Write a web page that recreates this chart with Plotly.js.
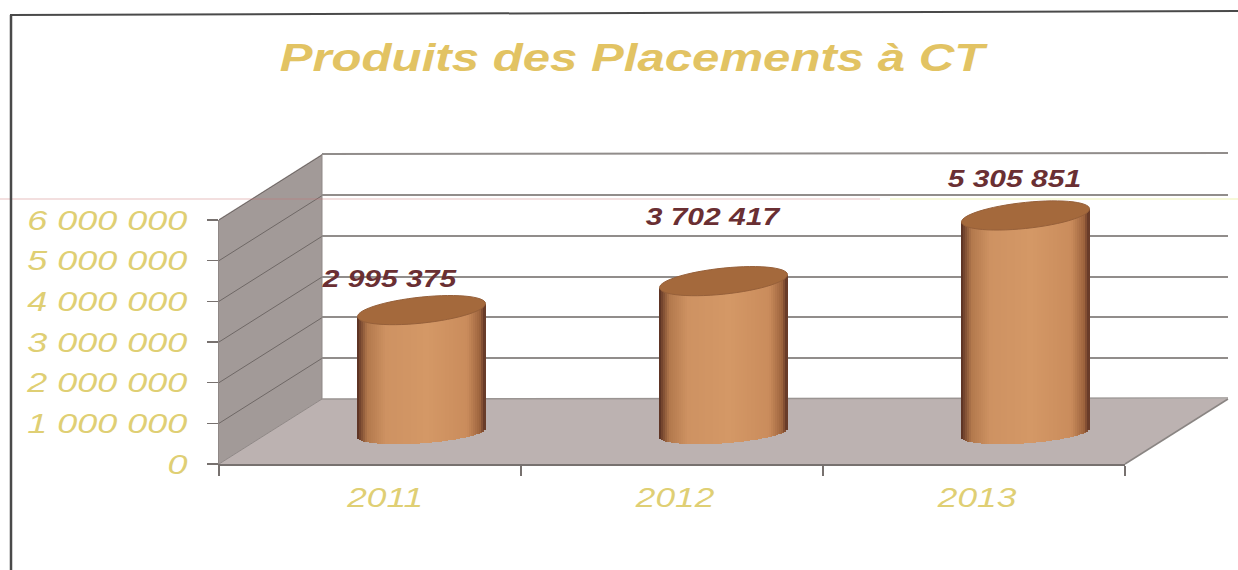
<!DOCTYPE html>
<html><head><meta charset="utf-8">
<script src="https://cdn.plot.ly/plotly-3.0.1.min.js"></script>
<style>html,body{margin:0;padding:0;background:#fff}</style></head>
<body><div id="chart" style="width:1238px;height:570px"></div>
<script>
const chartTitle = "Produits des Placements à CT";
const years = [2011, 2012, 2013];
const values = [2995375, 3702417, 5305851];
const valueLabels = ["2 995 375", "3 702 417", "5 305 851"];
const yearLabelPositions = [2011.05, 2012.01, 2013.01];
const yTicks = [0, 1000000, 2000000, 3000000, 4000000, 5000000, 6000000];
const yTickLabels = ["0", "1 000 000", "2 000 000", "3 000 000", "4 000 000", "5 000 000", "6 000 000"];
const yearBoundaries = [2010.5, 2011.5, 2012.5, 2013.5];
const labelShiftX = [-33, -11, -11];
const labelShiftY = [32, 65, 37];

const W = 1238, H = 570;
const px = x => x / W, py = y => 1 - y / H;
const domX = (a, b) => [px(a), px(b)], domY = (top, bot) => [py(bot), py(top)];
const perPx = 6000000 / 245, yearPerPx = 1 / 302;
const halfW = 64, ry = 13, ryBottom = 10.5;

const YEL = "#dfcf74", LAB = "#6a2f33";
const traces = [];
traces.push({type:"scatter", x:years, y:[0,0,0], mode:"none", hoverinfo:"skip", xaxis:"x", yaxis:"y", showlegend:false});

// cylinder body: narrow overlaid bars shaded across the width
const strips = 64;
function shade(u) {
  const stops = [[-1,[84,44,32]],[-0.96,[112,66,44]],[-0.84,[178,120,76]],[-0.55,[206,146,98]],[0.1,[212,152,102]],[0.72,[202,140,92]],[0.92,[158,100,62]],[1,[92,50,36]]];
  for (let i = 0; i < stops.length - 1; i++) {
    const [a, ca] = stops[i], [b, cb] = stops[i + 1];
    if (u <= b) { const t = (u - a) / (b - a);
      return "rgb(" + ca.map((c, k) => Math.round(c + (cb[k] - c) * t)).join(",") + ")"; }
  }
  return "rgb(92,50,36)";
}
for (let i = 0; i < strips; i++) {
  const u = -1 + (i + 0.5) * 2 / strips;
  const tilt = u * 6.5 * perPx;
  const bottom = u * 4.5 * perPx - ryBottom * Math.sqrt(1 - u * u) * perPx;
  traces.push({
    type:"bar", xaxis:"x2", yaxis:"y2", showlegend:false, hoverinfo:"skip",
    x: years.map(y => y + u * halfW * yearPerPx),
    base: years.map(() => bottom),
    y: values.map(v => v + tilt - bottom),
    width: (2 * halfW / strips + 0.6) * yearPerPx,
    marker:{color:shade(u), line:{width:0}}
  });
}
traces.push({type:"scatter", x:years, y:[0,0,0], mode:"none", hoverinfo:"skip", xaxis:"x3", yaxis:"y3", showlegend:false});

// top caps, tilted ellipses in the bars' own axes
const caps = years.map((yr, k) => {
  let d = "";
  for (let a = 0; a < 60; a++) {
    const t = a / 60 * 2 * Math.PI, c = Math.cos(t), s = Math.sin(t);
    const X = yr + c * halfW * yearPerPx;
    const Y = values[k] + (c * 6.5 + s * ry) * perPx;
    d += (a ? "L" : "M") + X.toFixed(5) + "," + Y.toFixed(0);
  }
  return {type:"path", xref:"x2", yref:"y2", layer:"above", path:d + "Z", fillcolor:"#a4693c", line:{width:1, color:"#96603a"}};
});

const wallH = 244 / 6000000;
const poly = (pts, fill, line) => ({type:"path", xref:"paper", yref:"paper", layer:"below",
  path:"M" + pts.map(p => px(p[0]).toFixed(5) + "," + py(p[1]).toFixed(5)).join("L") + "Z",
  fillcolor:fill, line:line || {width:0}});
const seg = (x0,y0,x1,y1,color,width,layer) => ({type:"line", xref:"paper", yref:"paper", layer:layer||"below",
  x0:px(x0), y0:py(y0), x1:px(x1), y1:py(y1), line:{color, width}});

const shapes = [
  poly([[219,464],[1125,464],[1228,399],[322,399]], "#bcb2b1"),
  poly([[219,464],[219,219],[322,154],[322,399]], "#a29a98"),
  ...yTicks.slice(1).map(v => seg(219, 464 - v*wallH, 322, 399 - v*wallH, "#6f6866", 1)),
  seg(322,154,322,399,"#8f8886",1),
  seg(219,464,322,399,"#8f8886",1),
  seg(1125,464,1228,399,"#8a8583",1.5),
  seg(322,154,1228,153,"#918d8b",2),
  seg(322,399,1228,398,"#9a9492",1.5),
  seg(0,199,880,199,"rgba(200,110,110,0.45)",1,"above"),
  seg(890,199,1238,199,"rgba(225,232,130,0.6)",1,"above"),
  seg(11,15,11,570,"#4a4a4a",2.5,"above"),
  seg(10,15,1238,11,"#4a4a4a",2,"above"),
  ...caps
];

const annotations = years.map((yr, k) => ({
  xref:"x2", yref:"y2", x:yr, y:values[k], text:valueLabels[k], showarrow:false,
  xshift:labelShiftX[k], yshift:labelShiftY[k],
  font:{family:"Liberation Sans", size:24, color:LAB, style:"italic", weight:700}
}));

const hidden = {showticklabels:false, ticks:"", showline:false, zeroline:false, showgrid:false, fixedrange:true};
const layout = {
  width:W, height:H, margin:{l:0,r:0,t:0,b:0}, autosize:false, showlegend:false,
  paper_bgcolor:"#ffffff", plot_bgcolor:"rgba(0,0,0,0)", barmode:"overlay", bargap:0,
  title:{text:chartTitle, xref:"paper", yref:"paper", x:632/W, xanchor:"center", y:py(57), yanchor:"middle",
    font:{family:"Liberation Sans", size:39, color:"#e2c363", style:"italic", weight:700}},
  xaxis:{...hidden, domain:domX(322,1228), range:[2010.5,2013.5], anchor:"y"},
  yaxis:{...hidden, domain:domY(154,399), range:[0,6000000], anchor:"x", showgrid:true, dtick:1000000, gridcolor:"#918d8b", gridwidth:2},
  xaxis2:{...hidden, domain:domX(270.5,1176.5), range:[2010.5,2013.5], anchor:"y2"},
  yaxis2:{...hidden, domain:domY(187,473.8), range:[-1000000,6000000], anchor:"x2"},
  xaxis3:{domain:domX(219,1125), range:[2010.5,2013.5], anchor:"y3", fixedrange:true, zeroline:false, showgrid:false,
    showline:true, linecolor:"#77716f", linewidth:2, tickmode:"array", tickvals:yearLabelPositions, ticktext:years.map(String),
    ticks:"", ticklabelstandoff:7, tickfont:{family:"Liberation Sans", size:28, color:YEL, style:"italic"},
    minor:{tickmode:"array", tickvals:yearBoundaries, ticks:"outside", ticklen:10, tickwidth:1.5, tickcolor:"#77716f", showgrid:false}},
  yaxis3:{domain:domY(220,464), range:[0,6000000], anchor:"x3", fixedrange:true, zeroline:false, showgrid:false,
    showline:true, linecolor:"#8f8886", linewidth:1, tickmode:"array", tickvals:yTicks, ticktext:yTickLabels,
    ticks:"outside", ticklen:11, tickwidth:1.5, tickcolor:"#77716f", ticklabelstandoff:14,
    tickfont:{family:"Liberation Sans", size:28, color:YEL, style:"italic"}},
  shapes, annotations
};
// the reference is a horizontally stretched scan: widen real text to the same proportions
function widen(selector, factor) {
  document.querySelectorAll(selector).forEach(t => {
    t.setAttribute("textLength", (t.getComputedTextLength() * factor).toFixed(1));
    t.setAttribute("lengthAdjust", "spacingAndGlyphs");
  });
}
Plotly.newPlot("chart", traces, layout, {displayModeBar:false, staticPlot:true}).then(() => {
  widen(".gtitle", 1.26);
  widen(".y3tick text", 1.285);
  widen(".x3tick text", 1.26);
  widen(".annotation-text", 1.25);
});
</script></body></html>
